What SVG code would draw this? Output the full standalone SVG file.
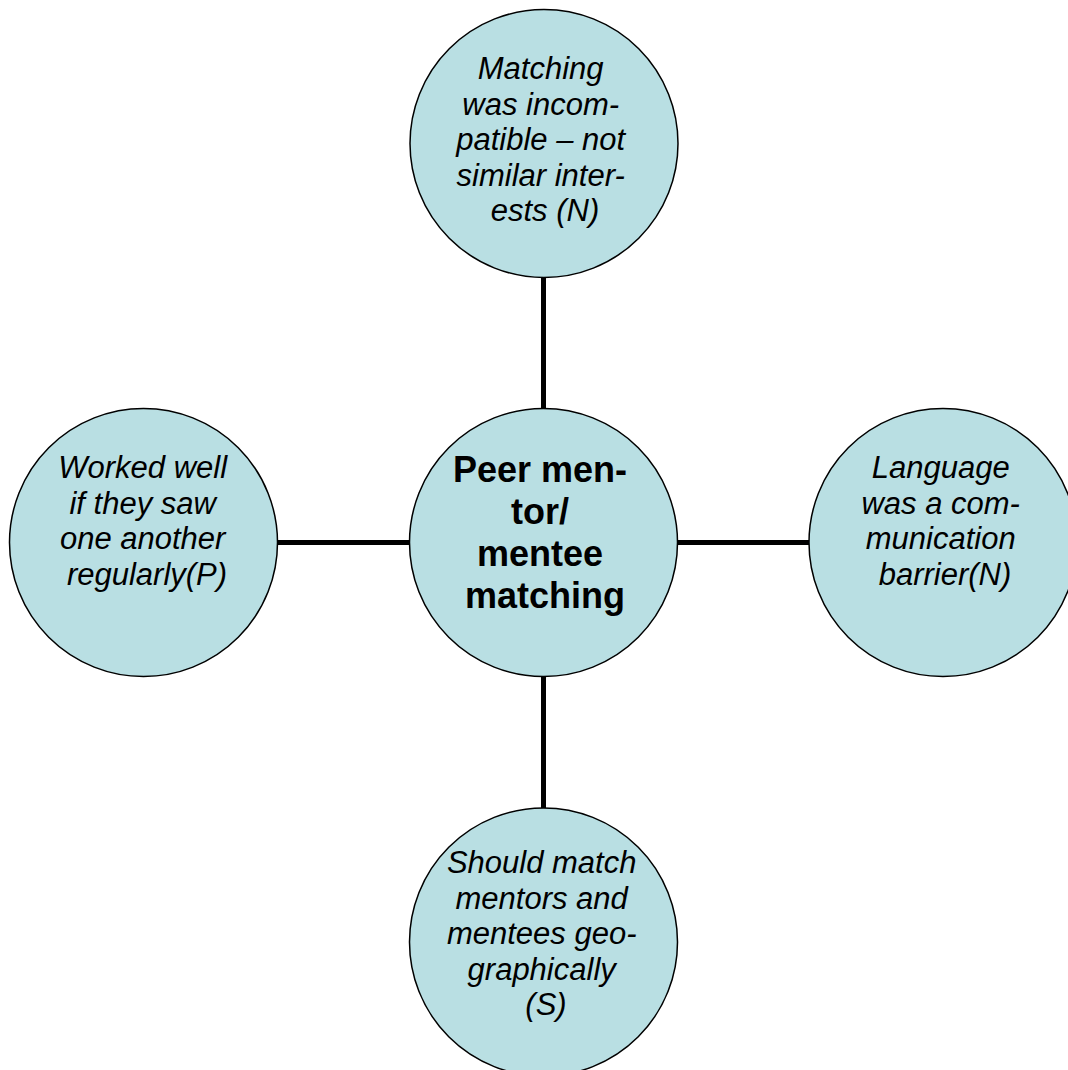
<svg xmlns="http://www.w3.org/2000/svg" width="1068" height="1070" viewBox="0 0 1068 1070">
  <style>
    .node { fill: #B9DFE3; stroke: #000000; stroke-width: 1.5; }
    .link { stroke: #000000; stroke-width: 5; fill: none; }
    .leaf { font-family: "Liberation Sans", Arial, sans-serif; font-size: 31px; font-style: italic; fill: #000000; text-anchor: middle; }
    .hub { font-family: "Liberation Sans", Arial, sans-serif; font-size: 36px; font-weight: bold; fill: #000000; text-anchor: middle; }
  </style>
  <rect width="1068" height="1070" fill="#FFFFFF"/>

  <!-- spokes from the hub to each outer circle -->
  <g id="connectors">
    <line class="link" x1="543.5" y1="277" x2="543.5" y2="409"/>
    <line class="link" x1="543.5" y1="676" x2="543.5" y2="808"/>
    <line class="link" x1="277" y1="542.5" x2="410" y2="542.5"/>
    <line class="link" x1="677" y1="542.5" x2="809" y2="542.5"/>
  </g>

  <g id="node-top">
    <circle class="node" cx="544" cy="143.5" r="134"/>
    <text class="leaf">
      <tspan x="545" y="79">Matching</tspan>
      <tspan x="545" y="114.5">was incom-</tspan>
      <tspan x="545" y="150">patible – not</tspan>
      <tspan x="545" y="185.5">similar inter-</tspan>
      <tspan x="545" y="221">ests (N)</tspan>
    </text>
  </g>

  <g id="node-center">
    <circle class="node" cx="543.5" cy="542.5" r="134"/>
    <text class="hub">
      <tspan x="545" y="482">Peer men-</tspan>
      <tspan x="545" y="524">tor/</tspan>
      <tspan x="545" y="566">mentee</tspan>
      <tspan x="545" y="608">matching</tspan>
    </text>
  </g>

  <g id="node-left">
    <circle class="node" cx="143.5" cy="542.5" r="134"/>
    <text class="leaf">
      <tspan x="147" y="478">Worked well</tspan>
      <tspan x="147" y="513.5">if they saw</tspan>
      <tspan x="147" y="549">one another</tspan>
      <tspan x="147" y="584.5">regularly(P)</tspan>
    </text>
  </g>

  <g id="node-right">
    <circle class="node" cx="943" cy="542.5" r="134"/>
    <text class="leaf">
      <tspan x="945" y="478">Language</tspan>
      <tspan x="945" y="513.5">was a com-</tspan>
      <tspan x="945" y="549">munication</tspan>
      <tspan x="945" y="584.5">barrier(N)</tspan>
    </text>
  </g>

  <g id="node-bottom">
    <circle class="node" cx="543.5" cy="942" r="134"/>
    <text class="leaf">
      <tspan x="546" y="873">Should match</tspan>
      <tspan x="546" y="908.5">mentors and</tspan>
      <tspan x="546" y="944">mentees geo-</tspan>
      <tspan x="546" y="979.5">graphically</tspan>
      <tspan x="546" y="1015">(S)</tspan>
    </text>
  </g>
</svg>
